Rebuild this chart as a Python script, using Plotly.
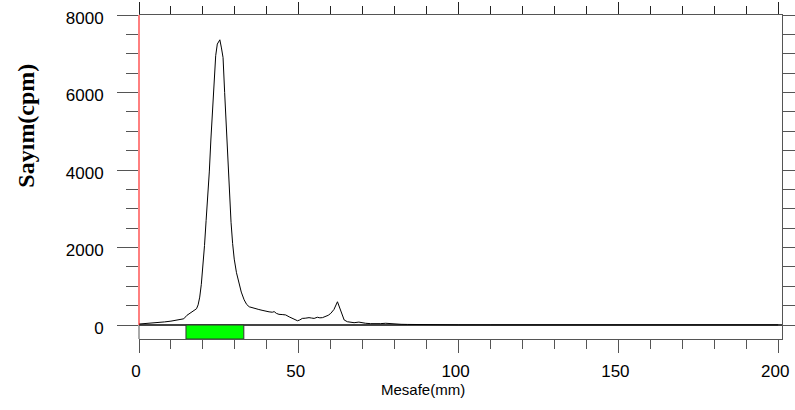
import plotly.graph_objects as go

# Distance (mm) and counts (cpm)
mesafe = [0, 2, 5, 8, 10, 12, 14, 15, 16, 17, 18, 18.5, 19, 19.5, 20, 20.5, 21, 21.5,
          22, 22.5, 23, 23.5, 24, 24.5, 25, 25.3, 25.8, 26.3, 26.8, 27.3, 27.8, 28.3,
          28.8, 29.3, 29.8, 30.5, 31.3, 32, 32.9, 33.7, 34.5, 35.5, 36.5, 37.5, 38.5,
          39.7, 40.7, 41.7, 42.3, 43, 43.8, 44.8, 45.9, 47, 48, 48.8, 49.6, 50.3, 51.1,
          52, 53.2, 54, 54.8, 55.8, 56.6, 57.4, 58.4, 59.2, 60, 61, 62.1, 63.1, 64.2,
          65.2, 66.3, 67.3, 68.8, 70, 70.9, 72.5, 74, 75.5, 77.2, 78.8, 80.3, 82, 84,
          86, 87.6, 90, 95, 100, 110, 120, 140, 160, 180, 200]
sayim = [25, 35, 55, 80, 100, 125, 160, 250, 300, 350, 420, 520, 720, 1050, 1500, 2050,
         2700, 3300, 3950, 4800, 5600, 6350, 6950, 7250, 7330, 7360, 7150, 6900, 6000,
         5100, 4200, 3350, 2650, 2100, 1700, 1350, 1050, 850, 650, 530, 470, 440, 420,
         400, 380, 350, 340, 330, 345, 300, 275, 270, 260, 210, 170, 140, 110, 130, 170,
         175, 190, 180, 170, 200, 185, 190, 215, 250, 300, 400, 600, 350, 130, 85, 70,
         60, 75, 55, 45, 35, 30, 35, 45, 30, 20, 18, 15, 12, 15, 8, 5, 4, 3, 3, 3, 3, 3, 3]

# Highlighted band (mm)
band_start = 14.7
band_end = 32.8

x_range = [0, 201.2]
y_range = [-361, 8000]
x_ticks = [0, 50, 100, 150, 200]
y_ticks = [0, 2000, 4000, 6000, 8000]

AX = "#555555"
tickfont = dict(family="Liberation Sans, Arial, sans-serif", size=17, color="black")

fig = go.Figure()
fig.add_trace(go.Scatter(x=mesafe, y=sayim, mode="lines",
                         line=dict(color="black", width=1), showlegend=False,
                         hoverinfo="skip"))
# invisible trace to activate overlay axes
fig.add_trace(go.Scatter(x=[None], y=[None], xaxis="x2", yaxis="y2", showlegend=False))

fig.add_shape(type="rect", xref="x", yref="y", x0=band_start, x1=band_end,
              y0=y_range[0], y1=0, fillcolor="#00ff00",
              line=dict(color="#333333", width=1), layer="above")

# left border: grey below zero, red from zero to the top
zero_frac = (0 - y_range[0]) / (y_range[1] - y_range[0])
top_frac = (y_ticks[-1] - y_range[0]) / (y_range[1] - y_range[0])
fig.add_shape(type="line", xref="paper", yref="paper", x0=0, x1=0, y0=0, y1=zero_frac,
              line=dict(color=AX, width=1), layer="above")
fig.add_shape(type="line", xref="paper", yref="paper", x0=0, x1=0, y0=zero_frac,
              y1=top_frac, line=dict(color="red", width=1), layer="above")

fig.update_layout(
    template="none",
    width=795, height=410,
    margin=dict(l=139, r=13, t=15, b=71, autoexpand=False),
    paper_bgcolor="white", plot_bgcolor="white",
    showlegend=False,
    xaxis=dict(range=x_range, tickvals=x_ticks, ticks="outside", ticklen=13,
               tickcolor=AX, tickwidth=1, showline=True, linecolor=AX, linewidth=1,
               showgrid=False, zeroline=False, tickfont=tickfont, automargin=False,
               ticklabelstandoff=4, ticklabelshift=-3,
               minor=dict(dtick=10, tick0=0, ticks="outside", ticklen=9,
                          tickcolor=AX, showgrid=False)),
    xaxis2=dict(range=x_range, overlaying="x", side="top", tickvals=x_ticks,
                ticks="outside", ticklen=12, tickcolor="#222", showticklabels=False,
                showline=True, linecolor=AX, showgrid=False, zeroline=False,
                automargin=False,
                minor=dict(dtick=10, tick0=0, ticks="outside", ticklen=8,
                           tickcolor="#222", showgrid=False)),
    yaxis=dict(range=y_range, tickvals=y_ticks, ticks="outside", ticklen=21,
               tickcolor=AX, showline=False, showgrid=False,
               zeroline=True, zerolinecolor="#444444", zerolinewidth=2,
               tickfont=tickfont, ticklabelstandoff=10, ticklabelshift=3,
               automargin=False,
               minor=dict(dtick=500, tick0=0, ticks="outside", ticklen=12,
                          tickcolor=AX, showgrid=False)),
    yaxis2=dict(range=y_range, overlaying="y", side="right", tickvals=y_ticks,
                ticks="outside", ticklen=21, tickcolor=AX, showticklabels=False,
                showline=True, linecolor=AX, showgrid=False, zeroline=False,
                automargin=False,
                minor=dict(dtick=500, tick0=0, ticks="outside", ticklen=13,
                           tickcolor=AX, showgrid=False)),
    annotations=[
        dict(text="Mesafe(mm)", xref="paper", yref="paper", x=0.441, y=-0.156,
             xanchor="center", yanchor="middle", showarrow=False,
             font=dict(family="Liberation Sans, Arial, sans-serif", size=15, color="black")),
        dict(text="<b>Sayım(cpm)</b>", xref="paper", yref="paper", x=-0.175, y=0.66,
             xanchor="center", yanchor="middle", textangle=-90, showarrow=False,
             font=dict(family="Liberation Serif, Times New Roman, serif", size=24, color="black")),
    ],
)

fig.write_html("out.html")
